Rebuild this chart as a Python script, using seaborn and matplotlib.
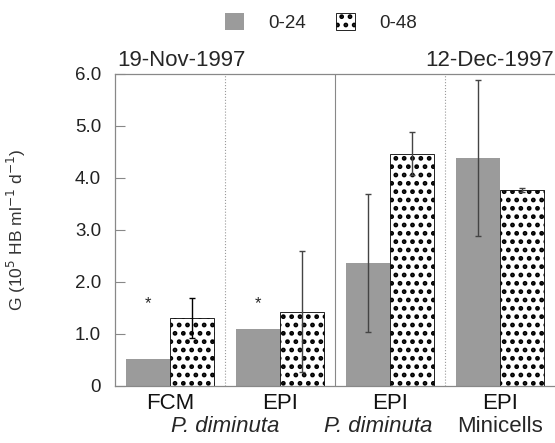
import numpy as np
import pandas as pd
import seaborn as sns
import matplotlib.pyplot as plt
from matplotlib.patches import Patch
from matplotlib.transforms import blended_transform_factory

groups = ["FCM 19", "EPI 19", "EPI 12a", "EPI 12b"]
methods = ["FCM", "EPI", "EPI", "EPI"]
g_24 = [0.52, 1.09, 2.37, 4.38]
g_48 = [1.31, 1.43, 4.47, 3.77]
err_24 = [np.nan, np.nan, 1.33, 1.50]
err_48 = [0.38, 1.17, 0.42, 0.04]
star_y = 1.58

df = pd.DataFrame({
    "group": groups * 2,
    "period": ["0-24"] * 4 + ["0-48"] * 4,
    "G": g_24 + g_48,
})

sns.set_style("white")
plt.rcParams["font.family"] = ["Liberation Sans", "DejaVu Sans"]
plt.rcParams["hatch.linewidth"] = 2.2

gray = "#9b9b9b"
hatch = ".."
fig = plt.figure(figsize=(5.55, 4.43), dpi=100)
ax = fig.add_axes([0.207, 0.129, 0.793, 0.704])

sns.barplot(data=df, x="group", y="G", hue="period", palette=[gray, "white"],
            errorbar=None, width=0.8, gap=0, legend=False, ax=ax)

for bar in ax.containers[0]:
    bar.set_edgecolor("none")
for bar in ax.containers[1]:
    bar.set_edgecolor("black")
    bar.set_hatch(hatch)
    bar.set_linewidth(0.6)

# error bars centred on each bar
for k, (cont, errs) in enumerate([(ax.containers[0], err_24), (ax.containers[1], err_48)]):
    for i, (bar, e) in enumerate(zip(cont, errs)):
        if np.isnan(e):
            continue
        xc = bar.get_x() + bar.get_width() / 2
        c = "black" if (k == 1 and i == 0) else "#444444"
        ax.errorbar(xc, bar.get_height(), yerr=e, fmt="none", ecolor=c,
                    elinewidth=1.0, capsize=2.5, capthick=1.0)

# significance markers above the first two gray bars
for bar in list(ax.containers[0])[:2]:
    ax.text(bar.get_x() + bar.get_width() / 2, star_y, "*", ha="center", va="center",
            fontsize=12)

ax.axvline(0.5, color="#999999", lw=0.8, ls=":")
ax.axvline(1.5, color="#888888", lw=0.8)
ax.axvline(2.5, color="#999999", lw=0.8, ls=":")

ax.set_xlim(-0.5, 3.5)
ax.set_ylim(0, 6.0)
ax.set_yticks([0, 1, 2, 3, 4, 5, 6])
ax.set_yticklabels(["0", "1.0", "2.0", "3.0", "4.0", "5.0", "6.0"], fontsize=13.5, color="#222222")
ax.tick_params(axis="y", direction="in", length=7, width=0.8, color="#888888", pad=10, left=True)
ax.set_xticks(range(4))
ax.set_xticklabels(methods, fontsize=16, color="#111111")
ax.tick_params(axis="x", length=0, pad=5)
ax.set_xlabel("")

trans = blended_transform_factory(ax.transData, ax.transAxes)
ax.text(0.5, -0.131, "P. diminuta", transform=trans, ha="center", va="center",
        fontsize=16, style="italic")
ax.text(1.89, -0.131, "P. diminuta", transform=trans, ha="center", va="center",
        fontsize=16, style="italic")
ax.text(3.0, -0.131, "Minicells", transform=trans, ha="center", va="center", fontsize=16)

ax.set_ylabel("G (10$^5$ HB ml$^{-1}$ d$^{-1}$)", fontsize=12.5, color="#333333")
ax.yaxis.set_label_coords(-0.198, 0.5)

ax.text(0.005, 1.008, "19-Nov-1997", transform=ax.transAxes, ha="left", va="bottom", fontsize=16)
ax.text(0.997, 1.008, "12-Dec-1997", transform=ax.transAxes, ha="right", va="bottom", fontsize=16)

for s in ["left", "top", "bottom"]:
    ax.spines[s].set_color("#888888")
    ax.spines[s].set_linewidth(0.9)
ax.spines["right"].set_visible(False)

handles = [Patch(facecolor=gray, edgecolor="none"),
           Patch(facecolor="white", edgecolor="black", hatch=hatch, linewidth=0.6)]
fig.legend(handles, ["0-24", "0-48"], ncol=2, frameon=False, loc="center",
           bbox_to_anchor=(0.578, 0.95), fontsize=13.5, handlelength=1.0, handleheight=1.0,
           handletextpad=1.3, columnspacing=1.6)

fig.savefig("out.png", dpi=100)
